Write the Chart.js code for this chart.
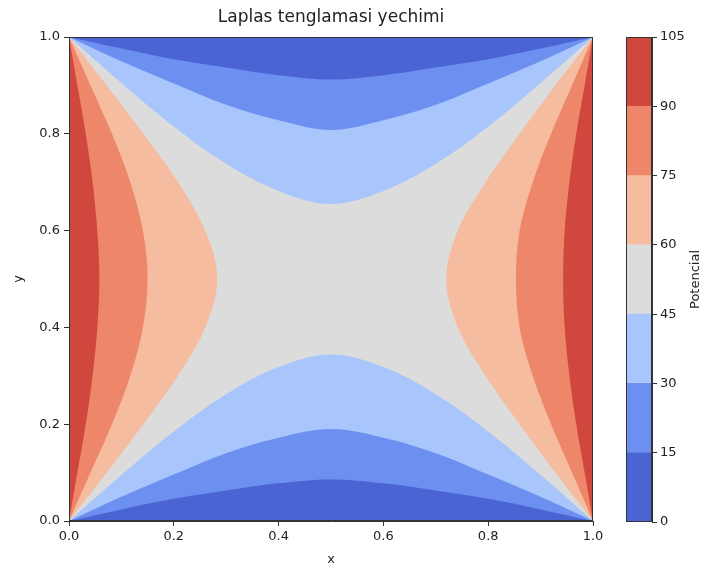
<!DOCTYPE html>
<html>
<head>
<meta charset="utf-8">
<script src="https://cdn.jsdelivr.net/npm/chart.js@4.4.0/dist/chart.umd.min.js"></script>
<style>
  body { margin: 0; background: #fff; }
  #wrap { position: relative; width: 706px; height: 567px; }
  #main { position: absolute; left: 0; top: 0; }
  #bar { position: absolute; left: 610px; top: 0; }
</style>
</head>
<body>
<div id="wrap">
  <canvas id="main" width="610" height="567"></canvas>
  <canvas id="bar" width="96" height="567"></canvas>
</div>
<script>
// sample positions along the edges (x for top/bottom curves, y for left/right curves)
var gridX = [0, 0.1, 0.2, 0.3, 0.4, 0.5, 0.6, 0.7, 0.8, 0.9, 1];
var gridY = [0, 0.1, 0.2, 0.3, 0.4, 0.5, 0.6, 0.7, 0.8, 0.9, 1];

// contour levels and their fill colours (coolwarm)
var levels = [0, 15, 30, 45, 60, 75, 90, 105];
var levelColors = ["#4a64d4", "#6d90f0", "#a8c5fc", "#dcdcdc", "#f5bca0", "#ee8669", "#d0473d"];

// blue contours, y at gridX
var bottom15 = [0, 0.024, 0.046, 0.063, 0.078, 0.086, 0.078, 0.063, 0.046, 0.024, 0];
var bottom30 = [0, 0.05, 0.096, 0.14, 0.172, 0.19, 0.172, 0.14, 0.096, 0.05, 0];
var bottom45 = [0, 0.095, 0.185, 0.262, 0.318, 0.344, 0.318, 0.262, 0.185, 0.095, 0];
var top15 = [1, 0.976, 0.954, 0.937, 0.921, 0.912, 0.921, 0.937, 0.954, 0.976, 1];
var top30 = [1, 0.95, 0.904, 0.86, 0.828, 0.808, 0.828, 0.86, 0.904, 0.95, 1];
var top45 = [1, 0.905, 0.815, 0.738, 0.682, 0.655, 0.682, 0.738, 0.815, 0.905, 1];

// red contours, x at gridY
var left60 = [0, 0.072, 0.142, 0.208, 0.26, 0.283, 0.26, 0.208, 0.142, 0.072, 0];
var left75 = [0, 0.041, 0.082, 0.117, 0.141, 0.15, 0.141, 0.117, 0.082, 0.041, 0];
var left90 = [0, 0.016, 0.032, 0.045, 0.054, 0.058, 0.054, 0.045, 0.032, 0.016, 0];
var right60 = [1, 0.928, 0.86, 0.795, 0.742, 0.72, 0.742, 0.795, 0.86, 0.928, 1];
var right75 = [1, 0.96, 0.92, 0.885, 0.86, 0.853, 0.86, 0.885, 0.92, 0.96, 1];
var right90 = [1, 0.984, 0.968, 0.955, 0.946, 0.943, 0.946, 0.955, 0.968, 0.984, 1];

var font = "'DejaVu Sans', sans-serif";
var textColor = "#222";

function alongX(ys) {
  return gridX.map(function (x, i) { return { x: x, y: ys[i] }; });
}
function alongY(xs) {
  return gridY.map(function (y, i) { return { x: xs[i], y: y }; });
}
function region(label, points, fill, color, order) {
  return {
    label: label,
    data: points,
    fill: fill,
    backgroundColor: color,
    borderWidth: 0,
    pointRadius: 0,
    showLine: true,
    tension: 0.35,
    order: order
  };
}

// axes frame + title centred over the plot like matplotlib
var frame = {
  id: "frame",
  afterDraw: function (c) {
    var a = c.chartArea, ctx = c.ctx;
    ctx.save();
    ctx.strokeStyle = "#333";
    ctx.lineWidth = 1;
    ctx.strokeRect(a.left + 0.5, a.top + 0.5, a.right - a.left - 1, a.bottom - a.top - 1);
    ctx.fillStyle = textColor;
    ctx.font = "17px " + font;
    ctx.textAlign = "center";
    ctx.textBaseline = "middle";
    ctx.fillText("Laplas tenglamasi yechimi", (a.left + a.right) / 2, 18);
    ctx.restore();
  }
};

new Chart(document.getElementById("main"), {
  type: "scatter",
  data: {
    datasets: [
      region("45-60", [{ x: 0, y: 1 }, { x: 1, y: 1 }], "start", levelColors[3], 20),
      region("60 left", alongY(left60), "shape", levelColors[4], 12),
      region("60 right", alongY(right60), "shape", levelColors[4], 12),
      region("75 left", alongY(left75), "shape", levelColors[5], 11),
      region("75 right", alongY(right75), "shape", levelColors[5], 11),
      region("90 left", alongY(left90), "shape", levelColors[6], 10),
      region("90 right", alongY(right90), "shape", levelColors[6], 10),
      region("45 bottom", alongX(bottom45), "start", levelColors[2], 12),
      region("45 top", alongX(top45), "end", levelColors[2], 12),
      region("30 bottom", alongX(bottom30), "start", levelColors[1], 11),
      region("30 top", alongX(top30), "end", levelColors[1], 11),
      region("15 bottom", alongX(bottom15), "start", levelColors[0], 10),
      region("15 top", alongX(top15), "end", levelColors[0], 10)
    ]
  },
  options: {
    responsive: false,
    animation: false,
    layout: { padding: { left: 0, right: 17, top: 37, bottom: 0 } },
    plugins: {
      legend: { display: false },
      tooltip: { enabled: false }
    },
    scales: {
      x: {
        type: "linear",
        min: 0,
        max: 1,
        ticks: {
          stepSize: 0.2,
          color: textColor,
          font: { family: font, size: 13 },
          padding: 3,
          maxRotation: 0,
          callback: function (v) { return v.toFixed(1); }
        },
        grid: { drawOnChartArea: false, drawTicks: true, tickLength: 5, color: "#333" },
        border: { display: true, color: "#333" },
        title: { display: true, text: "x", color: textColor, font: { family: font, size: 13 }, padding: { top: 0, bottom: 0 } },
        afterFit: function (s) { s.height = 46; }
      },
      y: {
        type: "linear",
        min: 0,
        max: 1,
        ticks: {
          stepSize: 0.2,
          color: textColor,
          font: { family: font, size: 13 },
          padding: 4,
          callback: function (v) { return v.toFixed(1); }
        },
        grid: { drawOnChartArea: false, drawTicks: true, tickLength: 5, color: "#333" },
        border: { display: true, color: "#333" },
        title: { display: true, text: "y", color: textColor, font: { family: font, size: 13 }, padding: { top: 11, bottom: 0 } },
        afterFit: function (s) { s.width = 69; }
      }
    }
  },
  plugins: [frame]
});

// colour bar
var colorbarLabel = {
  id: "colorbarLabel",
  afterDraw: function (c) {
    var a = c.chartArea, ctx = c.ctx;
    ctx.save();
    ctx.strokeStyle = "#333";
    ctx.lineWidth = 1;
    ctx.strokeRect(a.left + 0.5, a.top + 0.5, a.right - a.left - 1, a.bottom - a.top - 1);
    ctx.translate(86, (a.top + a.bottom) / 2);
    ctx.rotate(-Math.PI / 2);
    ctx.fillStyle = textColor;
    ctx.font = "13px " + font;
    ctx.textAlign = "center";
    ctx.textBaseline = "middle";
    ctx.fillText("Potencial", 0, 0);
    ctx.restore();
  }
};

new Chart(document.getElementById("bar"), {
  type: "bar",
  data: {
    labels: ["Potencial"],
    datasets: levelColors.map(function (col, i) {
      return {
        label: levels[i] + "-" + levels[i + 1],
        data: [[levels[i], levels[i + 1]]],
        backgroundColor: col,
        borderWidth: 0,
        barPercentage: 1,
        categoryPercentage: 1,
        grouped: false
      };
    })
  },
  options: {
    responsive: false,
    animation: false,
    layout: { padding: { left: 16, right: 0, top: 37, bottom: 45 } },
    plugins: { legend: { display: false }, tooltip: { enabled: false } },
    scales: {
      x: { display: false },
      y: {
        position: "right",
        min: 0,
        max: 105,
        ticks: { stepSize: 15, color: textColor, font: { family: font, size: 13 }, padding: 3 },
        grid: { drawOnChartArea: false, drawTicks: true, tickLength: 5, color: "#333" },
        border: { display: true, color: "#333" },
        afterFit: function (s) { s.width = 54; }
      }
    }
  },
  plugins: [colorbarLabel]
});
</script>
</body>
</html>
